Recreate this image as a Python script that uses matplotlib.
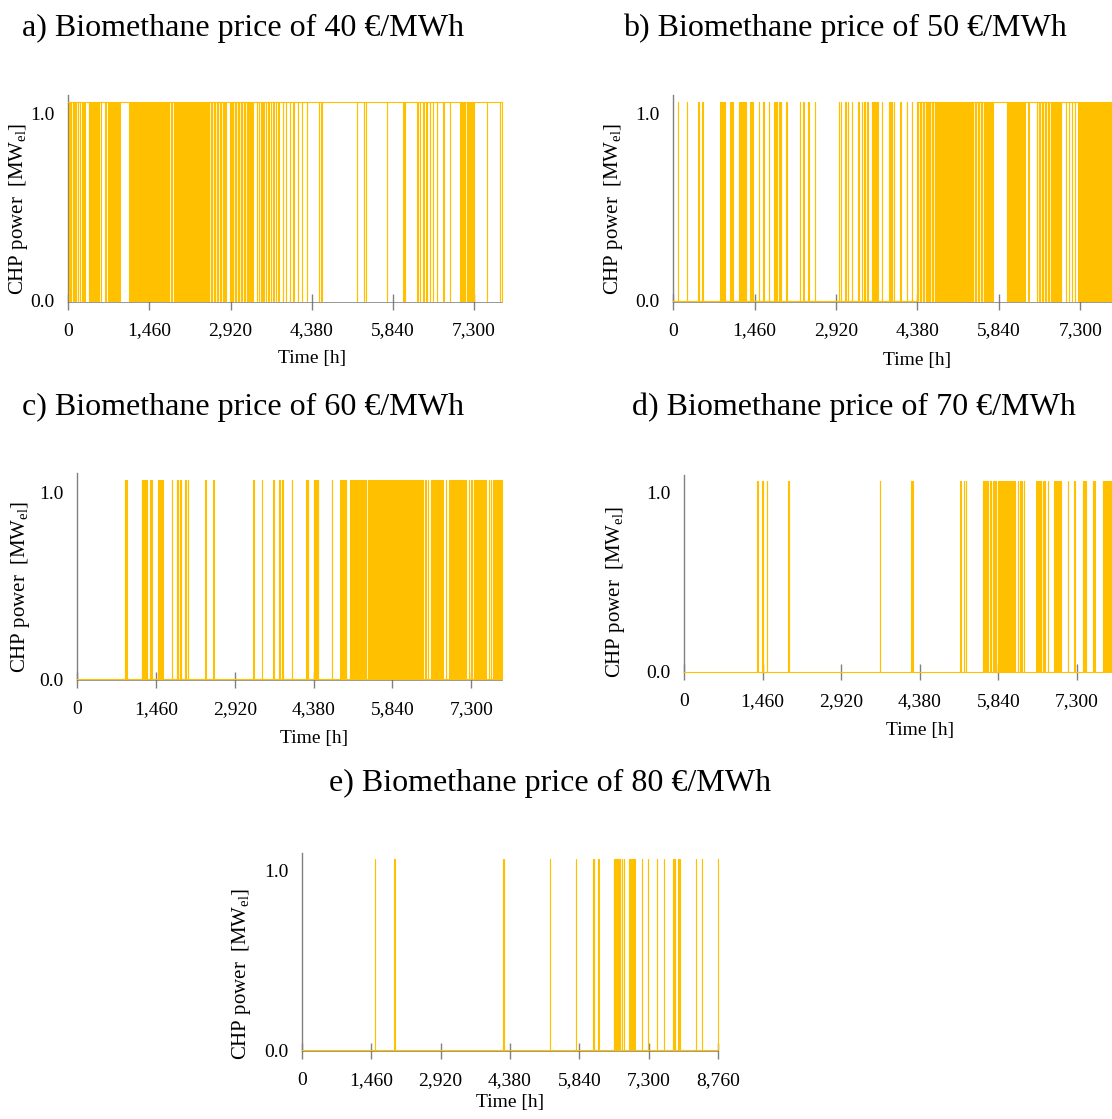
import matplotlib.pyplot as plt
import numpy as np

plt.rcParams['font.family'] = ['Liberation Serif', 'DejaVu Serif']
plt.rcParams['mathtext.fontset'] = 'custom'
plt.rcParams['mathtext.rm'] = 'Liberation Serif'
plt.rcParams['mathtext.it'] = 'Liberation Serif:italic'

P_CHP = 1.065          # electric output when the CHP runs [MW_el]
prices = [40, 50, 60, 70, 80]
tags = ['a', 'b', 'c', 'd', 'e']
x_ticks = [0, 1460, 2920, 4380, 5840, 7300, 8760]

# state at hour 0 (1 = running) and the hours at which the CHP switches
start_a = 1
switch_a = [
    8, 14, 30, 36, 50, 56, 84, 90, 106, 112, 140, 146, 168, 174, 212, 218,
    250, 256, 290, 296, 364, 370, 388, 394, 414, 420, 440, 446, 466, 472,
    494, 500, 520, 526, 548, 554, 590, 596, 665, 671, 720, 726,
    754, 760, 780, 786, 808, 814, 834, 840, 862, 868, 890, 896, 916, 922,
    1098, 1104,
    1120, 1126, 1146, 1152, 1172, 1178, 1200, 1206, 1226, 1232, 1252, 1258,
    1280, 1286, 1306, 1312, 1334, 1340, 1360, 1366, 1388, 1394, 1414, 1420,
    1440, 1446, 1468, 1474, 1494, 1500, 1520, 1526, 1548, 1554, 1574, 1580,
    1596, 1602, 1622, 1628, 1650, 1656, 1676, 1682, 1704, 1710, 1730, 1736,
    1756, 1762, 1784, 1790, 1810, 1816, 1852, 1858,
    1894, 1900, 1920, 1926, 1946, 1952, 1974, 1980, 2000, 2006, 2026, 2032,
    2054, 2060, 2080, 2086, 2108, 2114, 2134, 2140, 2160, 2166, 2188, 2194,
    2214, 2220, 2240, 2246, 2268, 2274, 2294, 2300, 2320, 2326, 2348, 2354,
    2374, 2380, 2400, 2406, 2428, 2434, 2454, 2460, 2482, 2488, 2508, 2514,
    2534, 2540, 2562, 2568, 2588, 2594, 2614, 2620, 2642, 2648, 2668, 2674,
    2694, 2700, 2722, 2728, 2748, 2754, 2776, 2782, 2802, 2808, 2828, 2834,
    2914, 2920, 2940, 2946, 2966, 2972, 2994, 3000, 3020, 3026, 3048, 3054,
    3074, 3080, 3100, 3106, 3128, 3134, 3154, 3160, 3180, 3186, 3208, 3214,
    3234, 3240, 3260, 3266, 3288, 3294, 3314, 3320,
    3396, 3404, 3430, 3436, 3470, 3480, 3512, 3518, 3550, 3560, 3600, 3606,
    3640, 3650, 3690, 3696, 3730, 3740, 3780, 3790,
    3858, 3864, 3918, 3924, 3990, 3996, 4050, 4056, 4128, 4134, 4200, 4206,
    4290, 4296, 4506, 4512, 4548, 4556, 5190, 5196, 5316, 5322, 5358, 5364,
    5730, 5736, 6030, 6036, 6060, 6066, 6282, 6288, 6330, 6336, 6390, 6396,
    6440, 6446, 6500, 6506, 6560, 6566, 6636, 6642, 6750, 6756, 6864, 6870,
    7052, 7058, 7080, 7086, 7110, 7116, 7140, 7146, 7170, 7176, 7200, 7206,
    7232, 7238, 7262, 7268, 7286, 7292, 7530, 7536, 7766, 7772,
]

start_b = 0
switch_b = [
    78, 84, 238, 244, 448, 454, 518, 524,
    842, 852, 860, 870, 880, 890, 900, 910, 918, 928, 1024, 1032, 1060, 1068,
    1172, 1180, 1194, 1202, 1216, 1224, 1238, 1246, 1260, 1268, 1282, 1290,
    1302, 1312, 1384, 1390, 1420, 1430, 1530, 1536, 1618, 1624, 1712, 1720,
    1812, 1820, 1842, 1852, 1900, 1906, 1930, 1936, 2026, 2032,
    2270, 2276, 2330, 2336, 2420, 2426, 2536, 2546,
    2964, 2970, 3008, 3016, 3086, 3094, 3130, 3138, 3202, 3208, 3318, 3326,
    3384, 3392, 3430, 3436, 3480, 3488,
    3562, 3572, 3584, 3596, 3608, 3620, 3632, 3644, 3656, 3668,
    3740, 3748, 3862, 3872, 3890, 3900, 3920, 3930, 3958, 3968,
    4070, 4078, 4190, 4196, 4280, 4286,
    4372,
    4392, 4398, 4418, 4424, 4446, 4452, 4472, 4478, 4498, 4504, 4526, 4532,
    4552, 4558, 4578, 4584, 4606, 4612, 4632, 4638, 4658, 4664, 4686, 4692,
    4712, 4718, 4738, 4744, 4766, 4772, 4792, 4798, 4818, 4824, 4846, 4852,
    4872, 4878, 4898, 4904, 4926, 4932, 4952, 4958, 4978, 4984, 5006, 5012,
    5032, 5038, 5058, 5064, 5086, 5092, 5112, 5118, 5138, 5144, 5166, 5172,
    5192, 5198, 5218, 5224, 5246, 5252, 5272, 5278, 5298, 5304, 5326, 5332,
    5352, 5358, 5378, 5384, 5406, 5412, 5432, 5438, 5458, 5464, 5486, 5492,
    5512, 5518, 5538, 5544, 5566, 5572, 5592, 5598, 5618, 5624, 5646, 5652,
    5672, 5678, 5698, 5704, 5726, 5732,
    5984, 5990, 6010, 6016, 6038, 6044, 6064, 6070, 6090, 6096, 6118, 6124,
    6144, 6150, 6170, 6176, 6198, 6204, 6224, 6230, 6250, 6256, 6278, 6284,
    6300, 6306, 6368, 6374, 6520, 6526,
    6554, 6560, 6580, 6586, 6608, 6614, 6634, 6640, 6660, 6666, 6688, 6694,
    6714, 6720, 6740, 6746, 6768, 6774, 6794, 6800, 6820, 6826, 6848, 6854,
    6874, 6880, 6900, 6906, 6928, 6934, 6954, 6960,
    7040, 7046, 7100, 7106, 7150, 7156, 7200, 7206,
    7268, 7274, 7294, 7300, 7322, 7328, 7348, 7354, 7374, 7380, 7402, 7408,
    7428, 7434, 7454, 7460, 7482, 7488, 7508, 7514, 7534, 7540, 7562, 7568,
    7588, 7594, 7614, 7620, 7642, 7648, 7668, 7674, 7694, 7700, 7722, 7728,
    7748, 7754, 7774, 7780, 7802, 7808, 7828, 7834, 7852, 7858,
]

start_c = 0
switch_c = [
    886, 892, 898, 904, 910, 916, 922, 930,
    1192, 1198, 1212, 1218, 1236, 1242, 1262, 1270, 1278, 1284, 1352, 1358,
    1374, 1380, 1502, 1510, 1522, 1530, 1548, 1556, 1572, 1580, 1588, 1596,
    1750, 1756, 1842, 1848, 1868, 1874, 1894, 1900, 1922, 1930, 2002, 2008,
    2054, 2060, 2370, 2376, 2520, 2526,
    3260, 3266, 3420, 3426, 3630, 3636, 3732, 3740, 3752, 3760, 3786, 3794,
    3802, 3810, 3975, 3981, 4242, 4250, 4266, 4276, 4378, 4384, 4410, 4416,
    4440, 4448, 4458, 4468, 4715, 4721,
    4872, 4884, 4896, 4906, 4920, 4932, 4946, 4956, 4970, 4982,
    5052, 5062, 5076, 5088, 5100, 5110, 5124, 5136, 5150, 5160, 5174, 5186,
    5198, 5208, 5222, 5234, 5248, 5258, 5272, 5284, 5296, 5306, 5320, 5332,
    5346, 5356, 5380, 5386, 5404, 5410,
    5430, 5440, 5454, 5466, 5478, 5488, 5502, 5514, 5526, 5536, 5550, 5562,
    5574, 5584, 5598, 5610, 5622, 5632, 5646, 5658, 5670, 5680, 5694, 5706,
    5718, 5728, 5742, 5754, 5766, 5776, 5790, 5802, 5814, 5824, 5838, 5850,
    5862, 5872, 5886, 5898, 5910, 5920, 5934, 5946, 5958, 5968, 5982, 5994,
    6006, 6016, 6030, 6042, 6054, 6064, 6078, 6090, 6102, 6112, 6126, 6138,
    6150, 6160, 6174, 6186, 6198, 6208, 6222, 6234, 6246, 6256, 6270, 6282,
    6294, 6304, 6318, 6330, 6344, 6354, 6368, 6380, 6392, 6402,
    6450, 6456, 6500, 6506,
    6548, 6560, 6572, 6582, 6596, 6608, 6620, 6630, 6644, 6656, 6668, 6678,
    6692, 6704, 6716, 6726, 6740, 6752, 6764, 6774, 6830, 6836,
    6886, 6898, 6910, 6920, 6934, 6946, 6958, 6968, 6982, 6994, 7006, 7016,
    7030, 7042, 7054, 7064, 7078, 7090, 7102, 7112, 7126, 7138, 7150, 7160,
    7174, 7186, 7200, 7210, 7260, 7266, 7300, 7306,
    7346, 7358, 7370, 7380, 7394, 7406, 7418, 7428, 7442, 7454, 7466, 7476,
    7490, 7502, 7514, 7524, 7538, 7550, 7562, 7572, 7620, 7626, 7660, 7666,
    7700, 7712, 7724, 7734, 7748, 7760, 7772, 7782, 7796, 7808, 7820, 7830,
    7844, 7856, 7862, 7870,
]

start_d = 0
switch_d = [
    1362, 1368, 1455, 1461, 1535, 1541, 1940, 1950, 3634, 3640,
    4220, 4230, 4244, 4254, 5136, 5142, 5198, 5204, 5240, 5246,
    5552, 5562, 5572, 5582, 5596, 5606, 5620, 5630, 5638, 5646,
    5690, 5696, 5706, 5712, 5740, 5750, 5766, 5776, 5790, 5796,
    5830, 5840, 5852, 5862, 5880, 5890, 5904, 5914, 5928, 5936,
    5950, 5960, 5976, 5986, 6000, 6010, 6026, 6034, 6050, 6060,
    6076, 6084, 6100, 6110, 6126, 6134, 6146, 6152,
    6200, 6210, 6236, 6244, 6270, 6280, 6310, 6320,
    6540, 6550, 6570, 6580, 6600, 6608, 6632, 6640, 6664, 6672, 6694, 6702,
    6762, 6768, 6880, 6890, 6900, 6910, 6922, 6932, 6944, 6954, 6966, 6976,
    6988, 6998, 7130, 7136, 7254, 7260, 7410, 7418, 7440, 7448, 7462, 7470,
    7594, 7602, 7622, 7630, 7780, 7790, 7804, 7814, 7828, 7838, 7852, 7862,
    7876, 7886, 7900, 7910, 7924, 7934,
]

start_e = 0
switch_e = [
    1535, 1541, 1943, 1949, 4224, 4232, 4250, 4258, 5222, 5228, 5762, 5768,
    6120, 6126, 6144, 6150, 6240, 6246, 6570, 6578, 6594, 6602, 6620, 6628,
    6646, 6654, 6672, 6680, 6692, 6700, 6730, 6736, 6778, 6784,
    6894, 6904, 6912, 6922, 6932, 6942, 6952, 6962, 6972, 6982, 6994, 7004,
    7008, 7014, 7152, 7158, 7280, 7286, 7468, 7474, 7622, 7628,
    7804, 7810, 7826, 7832, 7848, 7856, 7924, 7930, 7954, 7960, 8290, 8296,
    8416, 8422,
]

starts = [start_a, start_b, start_c, start_d, start_e]
switches = [switch_a, switch_b, switch_c, switch_d, switch_e]
x_max = [7809, 7870, 7875, 7952, 8760]

W, H = 1112, 1119
# axes box in pixels: left, top, right, bottom
boxes = [(68.3, 95, 502.3, 301.7), (673.3, 95, 1112, 301.7),
         (77.3, 473.3, 502.3, 680), (684, 475, 1112, 672.3),
         (302, 853, 718, 1051)]
ylabel_x = [30, 625, 32, 627, 253]
ylabel_y = [0.45, 0.45, 0.45, 0.41, 0.39]
xlabel_gap = [48, 50, 50, 50, 43]
titles_pos = [(22, 28, 'left'), (623, 28, 'left'), (22, 407, 'left'),
              (632, 407, 'left'), (550, 783, 'center')]

fig = plt.figure(figsize=(W / 100, H / 100), dpi=100)
gold = '#FFC000'
grey = '#808080'

for i in range(5):
    l, t, r, b = boxes[i]
    ax = fig.add_axes([l / W, 1 - b / H, (r - l) / W, (b - t) / H])
    xs = np.concatenate([[0], switches[i], [x_max[i]]])
    state = (starts[i] + np.arange(len(xs))) % 2
    ax.step(xs, state * P_CHP, where='post', color=gold, lw=0.8,
            zorder=3, clip_on=False)
    ax.set_xlim(0, x_max[i])
    ax.set_ylim(-0.004, 1.10)
    ticks = [v for v in x_ticks if v <= x_max[i]]
    ax.set_xticks(ticks)
    ax.set_xticklabels([f'{v:,}' for v in ticks])
    ax.set_yticks([0, 1.0])
    ax.set_yticklabels(['0.0', '1.0'])
    for s in ['top', 'right']:
        ax.spines[s].set_visible(False)
    ax.spines['left'].set_color(grey)
    ax.spines['left'].set_linewidth(1)
    ax.spines['bottom'].set_color('#6e6e6e')
    ax.spines['bottom'].set_linewidth(0.5)
    ax.tick_params(axis='x', direction='inout', length=12, width=1,
                   color=grey, labelsize=14, pad=9)
    ax.tick_params(axis='y', length=0, labelsize=14, pad=10)
    ax.set_xlabel('Time [h]', fontsize=14)
    ax.xaxis.set_label_coords(4380 / x_max[i], -xlabel_gap[i] / (b - t))
    ax.set_ylabel(r'CHP power  [MW$_{\mathrm{el}}$]', fontsize=15)
    ax.yaxis.set_label_coords((ylabel_x[i] - l) / (r - l), ylabel_y[i])

    tx, ty, ha = titles_pos[i]
    fig.text(tx / W, 1 - ty / H,
             f'{tags[i]}) Biomethane price of {prices[i]} €/MWh',
             fontsize=23, ha=ha, va='center')

fig.savefig('out.png', dpi=100)
